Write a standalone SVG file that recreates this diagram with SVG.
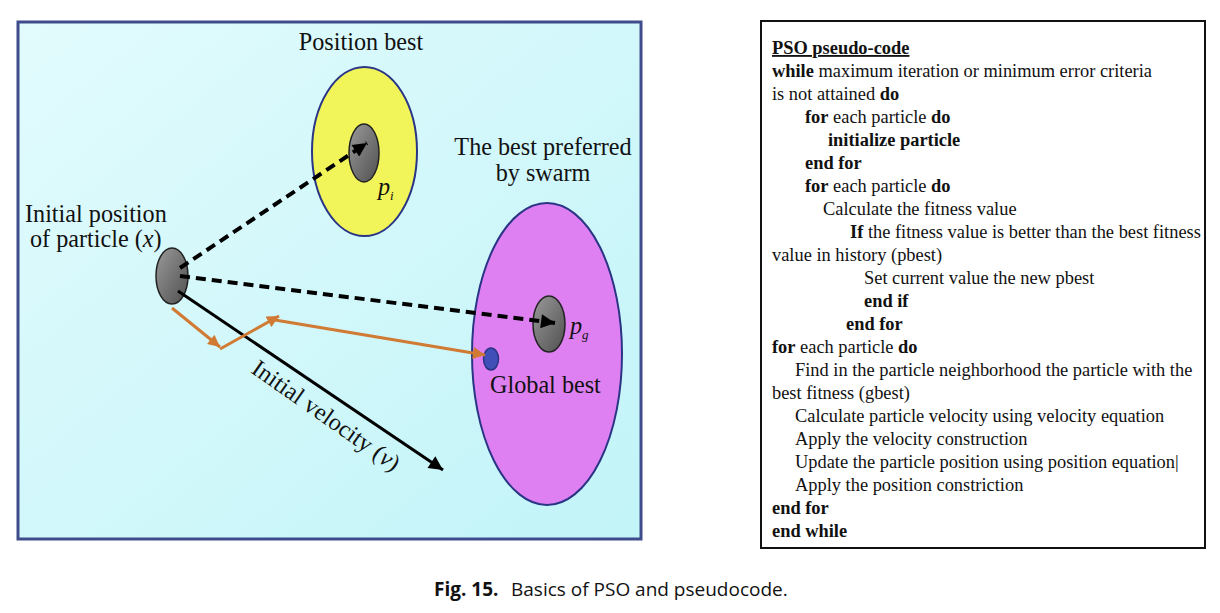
<svg xmlns="http://www.w3.org/2000/svg" width="1220" height="613" viewBox="0 0 1220 613">
<defs>
<linearGradient id="bg" x1="0" y1="0" x2="1" y2="1">
<stop offset="0" stop-color="#e2fbfd"/>
<stop offset="1" stop-color="#c2f4f8"/>
</linearGradient>
<linearGradient id="gray" x1="0" y1="0" x2="1" y2="1">
<stop offset="0" stop-color="#9a9a9a"/>
<stop offset="1" stop-color="#505050"/>
</linearGradient>
<marker id="ah" viewBox="0 0 10 10" refX="10" refY="5" markerWidth="15" markerHeight="14" markerUnits="userSpaceOnUse" orient="auto">
<path d="M0,0 L10,5 L0,10 Z" fill="#000"/>
</marker>
<marker id="ao" viewBox="0 0 10 10" refX="10" refY="5" markerWidth="13" markerHeight="12" markerUnits="userSpaceOnUse" orient="auto">
<path d="M0,0 L10,5 L0,10 Z" fill="#d07a33"/>
</marker>
<style>
.lbl{font-family:"Liberation Serif","Times New Roman",serif;font-size:24.2px;fill:#111}
.code{font-family:"Liberation Serif","Times New Roman",serif;font-size:18.4px;fill:#111}
.b{font-weight:bold}
.dash{stroke:#000;stroke-width:4;stroke-dasharray:10 6;fill:none}
.orange{stroke:#d07a33;stroke-width:3;fill:none}
.ring{stroke:#2a3585;stroke-width:2}
.part{fill:url(#gray);stroke:#222;stroke-width:1.5}
.cap{font-family:"Open Sans","Noto Sans",sans-serif;font-size:19px;fill:#111}
</style>
</defs>
<rect width="1220" height="613" fill="#fff"/>

<g id="panel-left">
<rect x="18" y="22" width="623" height="517" fill="url(#bg)" stroke="#3e4c8c" stroke-width="3"/>
</g>

<g id="position-best">
<ellipse cx="364.5" cy="151.5" rx="52.5" ry="84.5" fill="#f2f55a" class="ring"/>
<ellipse id="pi-particle" cx="364" cy="153" rx="15" ry="29" class="part"/>
<text class="lbl" x="361" y="50" text-anchor="middle">Position best</text>
<text class="lbl" x="378" y="195" font-style="italic">p<tspan font-size="13" dy="5">i</tspan></text>
</g>

<g id="swarm-best">
<ellipse cx="547" cy="354" rx="75" ry="151" fill="#df80f2" class="ring"/>
<ellipse id="pg-particle" cx="549" cy="324" rx="16" ry="28" class="part"/>
<ellipse id="global-best" cx="491" cy="359" rx="7.5" ry="11" fill="#4050b8" stroke="#2a3585" stroke-width="1.5"/>
<text class="lbl" x="543" y="155" text-anchor="middle">The best preferred</text>
<text class="lbl" x="543" y="181" text-anchor="middle">by swarm</text>
<text class="lbl" x="570" y="334" font-style="italic">p<tspan font-size="13" dy="5">g</tspan></text>
<text class="lbl" x="490" y="393">Global best</text>
</g>

<g id="particle">
<ellipse cx="172" cy="276" rx="16" ry="28" class="part"/>
<text class="lbl" x="25" y="222">Initial position</text>
<text class="lbl" x="30" y="247">of particle (<tspan font-style="italic">x</tspan>)</text>
</g>

<g id="connectors">
<line x1="180" y1="268" x2="367" y2="143" class="dash" marker-end="url(#ah)"/>
<line x1="180" y1="276" x2="555" y2="323" class="dash" marker-end="url(#ah)"/>
<line x1="178" y1="291" x2="443" y2="470" stroke="#000" stroke-width="3" marker-end="url(#ah)"/>
<line x1="172" y1="308" x2="220" y2="347" class="orange" marker-end="url(#ao)"/>
<line x1="220" y1="349" x2="279" y2="316" class="orange" marker-end="url(#ao)"/>
<line x1="275" y1="320" x2="485" y2="355" class="orange" marker-end="url(#ao)"/>
<text class="lbl" transform="translate(250,372) rotate(35)">Initial velocity (<tspan font-style="italic">v</tspan>)</text>
</g>

<g id="pseudocode">
<rect x="761" y="21" width="444" height="527" fill="#fff" stroke="#111" stroke-width="2"/>
<text class="code b" x="772" y="54" text-decoration="underline">PSO pseudo-code</text>
<text class="code" x="772" y="77"><tspan class="b">while</tspan> maximum iteration or minimum error criteria</text>
<text class="code" x="772" y="100">is not attained <tspan class="b">do</tspan></text>
<text class="code" x="805" y="123"><tspan class="b">for</tspan> each particle <tspan class="b">do</tspan></text>
<text class="code b" x="828" y="146">initialize particle</text>
<text class="code b" x="805" y="169">end for</text>
<text class="code" x="805" y="192"><tspan class="b">for</tspan> each particle <tspan class="b">do</tspan></text>
<text class="code" x="823" y="215">Calculate the fitness value</text>
<text class="code" x="850" y="238"><tspan class="b">If</tspan> the fitness value is better than the best fitness</text>
<text class="code" x="772" y="261">value in history (pbest)</text>
<text class="code" x="864" y="284">Set current value the new pbest</text>
<text class="code b" x="864" y="307">end if</text>
<text class="code b" x="846" y="330">end for</text>
<text class="code" x="772" y="353"><tspan class="b">for</tspan> each particle <tspan class="b">do</tspan></text>
<text class="code" x="795" y="376">Find in the particle neighborhood the particle with the</text>
<text class="code" x="772" y="399">best fitness (gbest)</text>
<text class="code" x="795" y="422">Calculate particle velocity using velocity equation</text>
<text class="code" x="795" y="445">Apply the velocity construction</text>
<text class="code" x="795" y="468">Update the particle position using position equation|</text>
<text class="code" x="795" y="491">Apply the position constriction</text>
<text class="code b" x="772" y="514">end for</text>
<text class="code b" x="772" y="537">end while</text>
</g>

<g id="caption">
<text class="cap" x="434" y="596" font-weight="bold">Fig. 15.</text>
<text class="cap" x="511" y="596">Basics of PSO and pseudocode.</text>
</g>
</svg>
